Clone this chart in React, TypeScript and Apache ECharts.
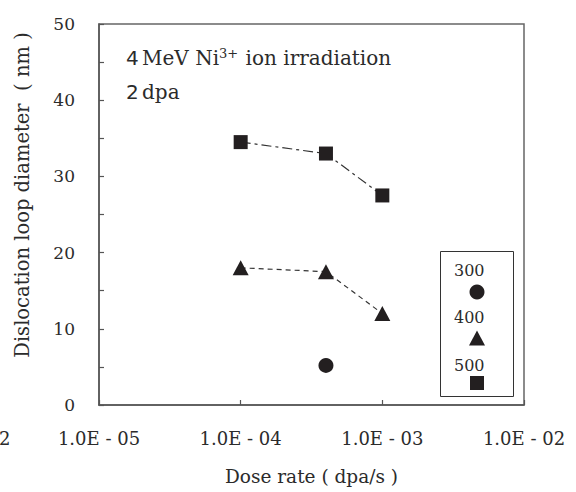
import React, { useEffect, useRef } from "react";
import * as echarts from "echarts";

const doseRates = [1e-4, 4e-4, 1e-3];
const series500 = [34.5, 33, 27.5];
const series400 = [18, 17.5, 12];
const dose300 = [4e-4];
const series300 = [5.2];
const xTickLabels: Record<string, string> = {
  "-5": "1.0E - 05",
  "-4": "1.0E - 04",
  "-3": "1.0E - 03",
  "-2": "1.0E - 02",
};
const legendNames = ["300", "400", "500"];

const SERIF = "'DejaVu Serif', serif";
const TXT = "#2b2b2b";
const MARK = "#231f20";

export default function App() {
  const ref = useRef<HTMLDivElement>(null);
  useEffect(() => {
    if (!ref.current) return;
    const chart = echarts.init(ref.current, null, { renderer: "svg" });
    const pair = (xs: number[], ys: number[]) => xs.map((x, i) => [x, ys[i]]);
    chart.setOption({
      animation: false,
      backgroundColor: "#fff",
      grid: {
        left: 99,
        right: 52,
        top: 24,
        bottom: 87,
        show: true,
        borderColor: "#666",
        borderWidth: 1.5,
      },
      xAxis: {
        type: "log",
        logBase: 10,
        min: 1e-5,
        max: 1e-2,
        axisLine: { show: true, lineStyle: { color: "#555", width: 1.5 } },
        axisTick: { show: true, inside: true, length: 5, lineStyle: { color: "#555", width: 1.2 } },
        splitLine: { show: false },
        minorTick: { show: false },
        axisLabel: {
          margin: 24,
          color: TXT,
          fontFamily: SERIF,
          fontSize: 18,
          formatter: (v: number) => xTickLabels[String(Math.round(Math.log10(v)))] ?? "",
        },
        name: "Dose rate ( dpa/s )",
        nameLocation: "middle",
        nameGap: 62,
        nameTextStyle: { color: TXT, fontFamily: SERIF, fontSize: 18.5 },
      },
      yAxis: {
        type: "value",
        min: 0,
        max: 50,
        interval: 5,
        axisLine: { show: true, lineStyle: { color: "#555", width: 1.5 } },
        axisTick: { show: true, inside: true, length: 5, lineStyle: { color: "#555", width: 1.2 } },
        splitLine: { show: false },
        axisLabel: {
          margin: 24,
          color: TXT,
          fontFamily: SERIF,
          fontSize: 17,
          formatter: (v: number) => (v % 10 === 0 ? String(v) : ""),
        },
      },
      series: [
        {
          name: "300",
          type: "line",
          data: pair(dose300, series300),
          symbol: "circle",
          symbolSize: 15,
          itemStyle: { color: MARK },
          lineStyle: { width: 0 },
        },
        {
          name: "400",
          type: "line",
          data: pair(doseRates, series400),
          symbol: "triangle",
          symbolSize: [16, 15],
          itemStyle: { color: MARK },
          lineStyle: { color: "#333", width: 1.2, type: [5, 4] },
        },
        {
          name: "500",
          type: "line",
          data: pair(doseRates, series500),
          symbol: "rect",
          symbolSize: 14,
          itemStyle: { color: MARK },
          lineStyle: { color: "#333", width: 1.2, type: [10, 4, 3, 4] },
        },
      ],
      graphic: [
        {
          type: "text",
          x: 22,
          y: 195,
          rotation: Math.PI / 2,
          style: {
            text: "Dislocation loop diameter  ( nm )",
            font: `19.5px ${SERIF}`,
            fill: TXT,
            align: "center",
            verticalAlign: "middle",
          },
        },
        {
          type: "text",
          x: -1,
          y: 438,
          style: { text: "2", font: `18px ${SERIF}`, fill: TXT, align: "left", verticalAlign: "middle" },
        },
        {
          type: "text",
          x: 126,
          y: 58,
          style: {
            text: "{a|4} {b|MeV Ni}{s|3+}{b| ion irradiation}",
            verticalAlign: "middle",
            rich: {
              a: { fontFamily: "'DejaVu Sans', sans-serif", fontSize: 20, fill: TXT, color: TXT, lineHeight: 26 },
              b: { fontFamily: SERIF, fontSize: 20, fill: TXT, color: TXT, lineHeight: 26 },
              s: { fontFamily: SERIF, fontSize: 13, fill: TXT, color: TXT, lineHeight: 26, verticalAlign: "top", padding: [2, 1, 0, 0] },
            },
          },
        },
        {
          type: "text",
          x: 126,
          y: 92,
          style: {
            text: "{a|2} {b|dpa}",
            verticalAlign: "middle",
            rich: {
              a: { fontFamily: "'DejaVu Sans', sans-serif", fontSize: 20, fill: TXT, color: TXT },
              b: { fontFamily: SERIF, fontSize: 20, fill: TXT, color: TXT },
            },
          },
        },
        {
          type: "rect",
          shape: { x: 440.5, y: 251.5, width: 73, height: 145 },
          style: { fill: "#fff", stroke: "#333", lineWidth: 1 },
          z: 10,
        },
        ...legendNames.map((n, i) => ({
          type: "text",
          x: 454,
          y: 270 + i * 47.5,
          z: 11,
          style: { text: n, font: `16px ${SERIF}`, fill: TXT, align: "left", verticalAlign: "middle" },
        })),
        { type: "circle", shape: { cx: 477, cy: 292, r: 7.5 }, style: { fill: MARK }, z: 11 },
        {
          type: "polygon",
          shape: { points: [[477, 330.5], [469, 345.5], [485, 345.5]] },
          style: { fill: MARK },
          z: 11,
        },
        { type: "rect", shape: { x: 470, y: 376, width: 14, height: 14 }, style: { fill: MARK }, z: 11 },
      ],
    });
    return () => chart.dispose();
  }, []);
  return <div ref={ref} style={{ position: "fixed", left: 0, top: 0, width: 576, height: 492 }} />;
}
